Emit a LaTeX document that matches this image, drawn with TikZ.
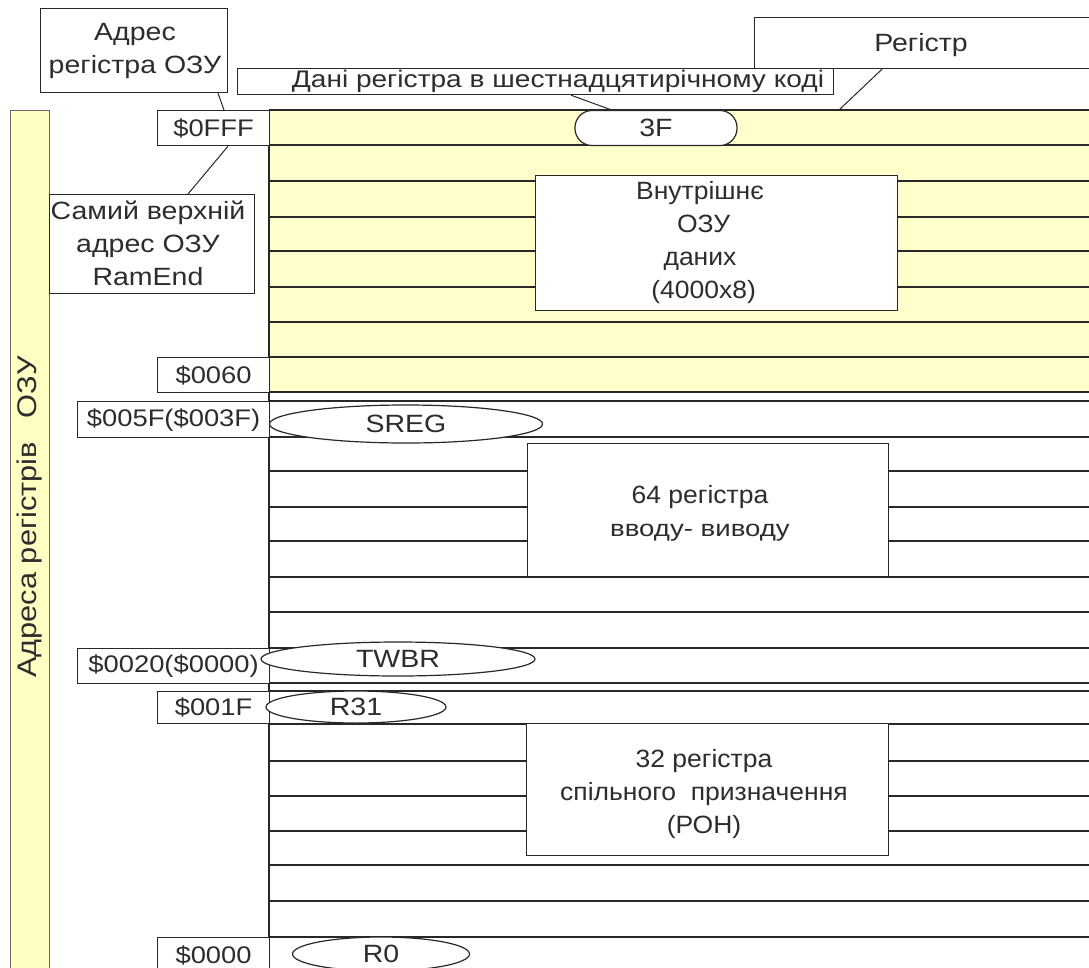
\documentclass[tikz,border=0pt]{standalone}
\usepackage{fontspec}
\setmainfont{Liberation Sans}
\newfontfamily\lblfont{Liberation Sans}[FakeStretch=1.14]
\newfontfamily\boxfont{Liberation Sans}[FakeStretch=1.06]
\newfontfamily\danifont{Liberation Sans}[FakeStretch=1.17]
\newfontfamily\iofont{Liberation Sans}[FakeStretch=1.2]
\usetikzlibrary{shapes.geometric,calc}
\definecolor{ramyellow}{RGB}{255,255,204}
\definecolor{baryellow}{RGB}{255,255,196}
\definecolor{linegray}{RGB}{40,40,40}
\definecolor{txtgray}{RGB}{45,45,45}
\begin{document}
\begin{tikzpicture}[x=1pt,y=-1pt,
  ln/.style={line width=1.3pt, draw=linegray},
  boxed/.style={draw=linegray, line width=1.2pt, fill=white, inner sep=0pt, text=txtgray},
  txt/.style={font=\boxfont\fontsize{25}{33}\selectfont, text=txtgray, align=center, inner sep=0pt},
  lbl/.style={font=\lblfont\fontsize{25}{33}\selectfont, text=txtgray, align=center, inner sep=0pt},
  addrbox/.style={boxed, anchor=north west, font=\lblfont\fontsize{24}{28}\selectfont},
  regell/.style={ellipse, draw=linegray, line width=1.2pt, fill=white, inner sep=0pt, text=txtgray, font=\lblfont\fontsize{25}{28}\selectfont},
  ptr/.style={line width=1pt, draw=linegray}
]
\useasboundingbox (0,0) rectangle (1089,967);
\fill[white] (0,0) rectangle (1089,967);

% yellow RAM region
\fill[ramyellow] (269,110) rectangle (1089,392);
\foreach \y in {110,145,181,217,251,287,322,357,392}
  \draw[ln] (269,\y) -- (1089,\y);
% I/O rows
\foreach \y in {401,437,471,507,541,577,612,648,683}
  \draw[ln] (269,\y) -- (1089,\y);
% general purpose rows
\foreach \y in {691,724,761,796,831,865,901,937}
  \draw[ln] (269,\y) -- (1089,\y);
\draw[ln] (269,110) -- (269,967);

% vertical bar
\node[draw=linegray!70, line width=1pt, fill=baryellow, minimum width=39, minimum height=870,
      inner sep=0pt, anchor=north west] (bar) at (10,110) {};
\node[lbl, font=\lblfont\fontsize{27}{30}\selectfont, rotate=90] (bartxt) at (30,517) {Адреса регістрів\hspace{24pt}ОЗУ};

% address boxes
\node[addrbox, minimum width=112, minimum height=35] (a0fff) at (157,110) {\$0FFF};
\node[addrbox, minimum width=112, minimum height=35] (a0060) at (157,357) {\$0060};
\node[addrbox, minimum width=192, minimum height=36] (a005f) at (77,401) {\$005F(\$003F)};
\node[addrbox, minimum width=192, minimum height=35] (a0020) at (77,648) {\$0020(\$0000)};
\node[addrbox, minimum width=112, minimum height=32] (a001f) at (157,691) {\$001F};
\node[addrbox, minimum width=112, minimum height=36] (a0000) at (157,937) {\$0000};

% big blocks
\node[boxed, anchor=north west, minimum width=362, minimum height=135] (ram) at (535,175) {};
\node[txt] (ramtxt) at (700,243) {Внутрішнє\\ \ ОЗУ\\даних\\ \ (4000x8)};
\node[boxed, anchor=north west, minimum width=361, minimum height=133] (io) at (527,443) {};
\node[txt] (iotxt) at (700,513) {64 регістра\\{\iofont\fontsize{23}{33}\selectfont вводу- виводу}};
\node[boxed, anchor=north west, minimum width=362, minimum height=132] (gp) at (526,723) {};
\node[txt] (gptxt) at (704,794) {32 регістра\\спільного\ \ призначення\\(РОН)};

% register shapes
\node[boxed, rounded corners=17pt, minimum width=162, minimum height=35,
      font=\lblfont\fontsize{25}{28}\selectfont] (f3) at (656,128) {3F};
\node[regell, minimum width=273, minimum height=38] (sreg) at (406,424) {SREG};
\node[regell, minimum width=274, minimum height=34] (twbr) at (398,659) {TWBR};
\node[regell, minimum width=180, minimum height=32] (r31) at (356,707) {R31};
\node[regell, minimum width=177, minimum height=34] (r0) at (381,954) {R0};

% callouts
\node[boxed, anchor=north west, minimum width=187, minimum height=84] (adr) at (40,8) {};
\node[lbl] (adrtxt) at (135,51) {Адрес\\регістра ОЗУ};
\node[boxed, anchor=north west, minimum width=205, minimum height=99] (topbox) at (49,194) {};
\node[lbl] (toptxt) at (148,243) {Самий верхній\\адрес ОЗУ\\RamEnd};
\node[boxed, anchor=north west, minimum width=350, minimum height=51] (reg) at (754,17) {};
\node[lbl] (regtxt) at (921,45) {Регістр};
\node[boxed, anchor=north west, minimum width=596, minimum height=26] (dani) at (237,68) {};
\node[lbl, font=\danifont\fontsize{24}{26}\selectfont] (danitxt) at (558,81) {Дані регістра в шестнадцятирічному коді};

% pointers
\coordinate (ytop) at (839,110);
\draw[ptr] ($(adr.south west)+(178,0)$) -- ($(a0fff.north west)+(67,0)$);
\draw[ptr] ($(a0fff.south west)+(71,0)$) -- ($(topbox.north west)+(139,0)$);
\draw[ptr] ($(dani.south west)+(334,0)$) -- ($(f3.north west)+(37,0)$);
\draw[ptr] ($(reg.south west)+(128,0)$) -- (ytop);
\end{tikzpicture}
\end{document}
